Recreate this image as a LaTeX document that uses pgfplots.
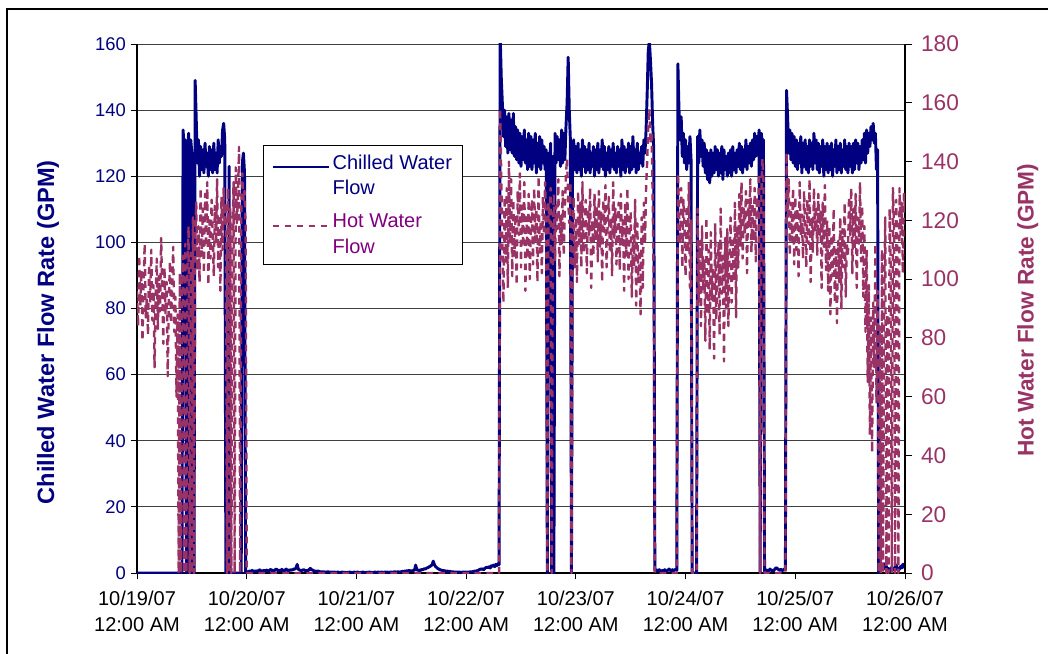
\documentclass[border=0pt]{standalone}
\usepackage{fontspec}
\setmainfont{Liberation Sans}
\usepackage{pgfplots}
\usepackage{pgfplotstable}
\pgfplotsset{compat=1.18}
\definecolor{cw}{HTML}{000080}
\definecolor{hw}{HTML}{993366}
\definecolor{hwtext}{HTML}{800080}

% Chilled water flow (GPM), one value every 0.01 day from 10/19/07 0:00
\pgfplotstableread[row sep=\\]{
y\\
0\\0\\0\\0\\0\\0\\0\\0\\0\\0\\
0\\0\\0\\0\\0\\0\\0\\0\\0\\0\\
0\\0\\0\\0\\0\\0\\0\\0\\0\\0\\
0\\0\\0\\0\\0\\0\\0\\0\\0\\0\\
0\\0\\134\\128\\131\\0\\126\\133\\0\\131\\
127\\0\\0\\149\\137\\124\\131\\120\\129\\122\\
128\\121\\130\\123\\127\\120\\129\\122\\128\\121\\
130\\122\\127\\121\\131\\124\\129\\126\\134\\136\\
131\\0\\0\\0\\123\\0\\0\\0\\0\\0\\
0\\0\\0\\0\\0\\0\\124\\127\\121\\0\\
0.4\\0.3\\0.5\\0.6\\0.4\\0.8\\0.5\\0.3\\0.7\\0.5\\
0.6\\0.8\\1.0\\0.6\\0.4\\0.7\\0.8\\0.5\\0.9\\0.6\\
0.5\\0.9\\1.1\\0.7\\0.8\\0.6\\1.0\\1.2\\0.8\\0.7\\
0.9\\0.6\\1.1\\0.8\\0.5\\0.9\\1.2\\0.8\\0.6\\1.0\\
0.8\\1.0\\0.9\\1.3\\1.1\\1.6\\2.6\\1.2\\0.9\\0.8\\
0.7\\0.9\\1.0\\0.8\\0.6\\0.8\\0.7\\1.1\\1.4\\1.0\\
0.9\\0.7\\0.5\\0.6\\0.4\\0.6\\0.5\\0.3\\0.4\\0.3\\
0.4\\0.3\\0.2\\0.3\\0.4\\0.2\\0.3\\0.2\\0.3\\0.2\\
0.3\\0.2\\0.2\\0.3\\0.2\\0.1\\0.2\\0.3\\0.2\\0.2\\
0.2\\0.1\\0.2\\0.2\\0.3\\0.2\\0.1\\0.2\\0.3\\0.2\\
0.2\\0.3\\0.2\\0.1\\0.2\\0.2\\0.3\\0.2\\0.1\\0.2\\
0.2\\0.2\\0.3\\0.2\\0.2\\0.1\\0.2\\0.3\\0.2\\0.2\\
0.3\\0.2\\0.2\\0.3\\0.2\\0.2\\0.3\\0.2\\0.3\\0.2\\
0.2\\0.3\\0.3\\0.2\\0.3\\0.4\\0.3\\0.3\\0.4\\0.3\\
0.3\\0.4\\0.5\\0.4\\0.6\\0.5\\0.7\\0.6\\0.8\\0.6\\
0.7\\0.6\\0.8\\0.9\\2.4\\1.0\\0.8\\0.9\\0.7\\1.0\\
1.0\\1.1\\1.3\\1.2\\1.5\\1.6\\1.8\\2.0\\2.2\\2.5\\
3.6\\2.6\\2.0\\1.7\\1.4\\1.2\\1.0\\0.9\\0.8\\0.7\\
0.7\\0.6\\0.5\\0.6\\0.4\\0.5\\0.4\\0.3\\0.4\\0.3\\
0.3\\0.2\\0.3\\0.2\\0.3\\0.2\\0.2\\0.3\\0.2\\0.3\\
0.2\\0.3\\0.2\\0.3\\0.4\\0.3\\0.4\\0.5\\0.6\\0.5\\
0.7\\0.8\\1.0\\1.2\\1.1\\1.3\\1.0\\1.4\\1.6\\1.8\\
1.6\\1.9\\1.5\\2.2\\2.0\\2.4\\1.9\\2.6\\2.2\\2.8\\
2.5\\163\\150\\142\\132\\140\\129\\138\\127\\139\\
128\\137\\127\\139\\126\\135\\125\\134\\124\\133\\
123\\132\\125\\134\\124\\131\\122\\133\\123\\132\\
122\\131\\124\\133\\121\\130\\123\\132\\122\\131\\
124\\129\\122\\128\\0\\127\\121\\130\\0\\126\\
0\\133\\124\\132\\125\\131\\123\\134\\124\\133\\
125\\135\\142\\156\\140\\131\\0\\124\\131\\122\\
129\\121\\130\\122\\128\\120\\131\\123\\129\\121\\
128\\122\\130\\121\\127\\123\\129\\120\\128\\122\\
130\\121\\128\\123\\131\\122\\129\\120\\127\\122\\
129\\121\\128\\123\\130\\122\\127\\121\\129\\123\\
128\\120\\131\\122\\129\\121\\128\\123\\130\\121\\
129\\122\\132\\123\\128\\121\\130\\122\\127\\124\\
129\\123\\131\\127\\134\\145\\158\\161\\155\\148\\
136\\128\\0.8\\0.5\\0.9\\0.6\\1.0\\0.7\\0.5\\0.8\\
0.6\\1.0\\0.7\\0.5\\0.9\\1.2\\0.8\\0.6\\1.0\\0.7\\
0.9\\1.1\\0.8\\154\\140\\131\\138\\126\\133\\124\\
131\\122\\129\\124\\132\\125\\0\\0\\0\\0\\
0\\132\\124\\134\\126\\131\\123\\130\\121\\128\\
119\\127\\118\\128\\120\\127\\121\\129\\122\\128\\
120\\127\\121\\129\\119\\128\\122\\126\\120\\127\\
121\\128\\120\\129\\122\\127\\121\\128\\123\\130\\
122\\129\\121\\128\\123\\131\\122\\129\\124\\130\\
123\\131\\125\\133\\126\\132\\128\\134\\0\\133\\
130\\131\\0\\0.6\\0.9\\0.5\\0.8\\1.2\\0.7\\0.9\\
0.6\\1.0\\1.4\\1.6\\1.2\\1.0\\0.8\\1.1\\0.7\\0.9\\
1.2\\1.0\\146\\138\\127\\134\\125\\133\\124\\132\\
123\\131\\122\\130\\124\\132\\121\\130\\123\\131\\
122\\129\\121\\131\\123\\130\\122\\133\\124\\131\\
122\\130\\121\\129\\123\\131\\120\\129\\122\\130\\
121\\129\\122\\130\\120\\128\\123\\131\\121\\129\\
122\\130\\121\\128\\123\\131\\122\\129\\121\\130\\
123\\129\\121\\130\\122\\131\\124\\130\\122\\129\\
124\\131\\125\\133\\124\\134\\127\\133\\129\\135\\
131\\136\\130\\133\\122\\128\\0\\1.5\\0.8\\2.2\\
1.5\\2.8\\1.2\\2.0\\0.8\\1.4\\0.9\\0.6\\1.8\\1.2\\
0.9\\1.6\\2.4\\1.1\\0.7\\1.3\\2.0\\1.5\\2.6\\1.8\\
3.0\\
}\chilled

% Hot water flow (GPM), one value every 0.01 day
\pgfplotstableread[row sep=\\]{
y\\
96\\84\\108\\91\\103\\79\\99\\112\\87\\94\\
81\\105\\92\\110\\86\\98\\70\\93\\107\\83\\
101\\89\\114\\95\\78\\104\\88\\99\\67\\92\\
106\\85\\97\\111\\82\\94\\60\\88\\0\\102\\
0\\96\\108\\0\\112\\0\\104\\118\\0\\109\\
0\\121\\0\\114\\126\\103\\118\\99\\131\\108\\
124\\102\\129\\111\\133\\98\\120\\107\\127\\115\\
101\\125\\112\\134\\104\\122\\96\\128\\110\\131\\
118\\126\\0\\131\\0\\124\\0\\112\\133\\0\\
138\\119\\128\\145\\0\\122\\136\\127\\130\\118\\
0\\0\\0\\0\\0\\0\\0\\0\\0\\0\\
0\\0\\0\\0\\0\\0\\0\\0\\0\\0\\
0\\0\\0\\0\\0\\0\\0\\0\\0\\0\\
0\\0\\0\\0\\0\\0\\0\\0\\0\\0\\
0\\0\\0\\0\\0\\0\\0\\0\\0\\0\\
0\\0\\0\\0\\0\\0\\0\\0\\0\\0\\
0\\0\\0\\0\\0\\0\\0\\0\\0\\0\\
0\\0\\0\\0\\0\\0\\0\\0\\0\\0\\
0\\0\\0\\0\\0\\0\\0\\0\\0\\0\\
0\\0\\0\\0\\0\\0\\0\\0\\0\\0\\
0\\0\\0\\0\\0\\0\\0\\0\\0\\0\\
0\\0\\0\\0\\0\\0\\0\\0\\0\\0\\
0\\0\\0\\0\\0\\0\\0\\0\\0\\0\\
0\\0\\0\\0\\0\\0\\0\\0\\0\\0\\
0\\0\\0\\0\\0\\0\\0\\0\\0\\0\\
0\\0\\0\\0\\0\\0\\0\\0\\0\\0\\
0\\0\\0\\0\\0\\0\\0\\0\\0\\0\\
0\\0\\0\\0\\0\\0\\0\\0\\0\\0\\
0\\0\\0\\0\\0\\0\\0\\0\\0\\0\\
0\\0\\0\\0\\0\\0\\0\\0\\0\\0\\
0\\0\\0\\0\\0\\0\\0\\0\\0\\0\\
0\\0\\0\\0\\0\\0\\0\\0\\0\\0\\
0\\0\\0\\0\\0\\0\\0\\0\\0\\0\\
0\\158\\135\\112\\92\\128\\106\\131\\97\\140\\
112\\134\\101\\127\\108\\122\\98\\130\\115\\136\\
104\\125\\111\\133\\96\\121\\107\\129\\100\\118\\
127\\105\\131\\113\\124\\99\\135\\109\\120\\102\\
128\\115\\133\\110\\0\\126\\119\\131\\0\\114\\
129\\106\\125\\117\\134\\101\\122\\112\\130\\108\\
124\\136\\141\\127\\119\\133\\0\\113\\128\\104\\
121\\99\\130\\112\\126\\104\\133\\109\\118\\127\\
102\\124\\115\\131\\97\\120\\108\\129\\113\\125\\
106\\130\\111\\123\\99\\127\\116\\132\\104\\119\\
128\\109\\121\\101\\133\\114\\124\\105\\118\\126\\
103\\129\\112\\120\\96\\126\\108\\131\\100\\117\\
123\\94\\115\\104\\127\\91\\119\\99\\110\\88\\
121\\97\\126\\112\\131\\140\\152\\158\\146\\150\\
128\\96\\0\\0\\0\\0\\0\\0\\0\\0\\
0\\0\\0\\0\\0\\0\\0\\0\\0\\0\\
0\\0\\0\\136\\124\\112\\131\\104\\127\\118\\
101\\125\\109\\133\\97\\120\\0\\0\\0\\0\\
0\\124\\92\\113\\84\\118\\96\\107\\79\\121\\
88\\110\\76\\116\\93\\104\\73\\119\\86\\101\\
112\\81\\124\\95\\108\\72\\114\\90\\117\\84\\
106\\121\\92\\113\\99\\126\\87\\118\\104\\129\\
111\\133\\107\\124\\115\\130\\102\\127\\118\\134\\
109\\126\\113\\131\\106\\128\\122\\136\\0\\128\\
141\\133\\0\\0\\0\\0\\0\\0\\0\\0\\
0\\0\\0\\0\\0\\0\\0\\0\\0\\0\\
0\\0\\143\\121\\134\\108\\126\\113\\131\\105\\
128\\110\\124\\101\\133\\115\\122\\107\\130\\118\\
104\\127\\112\\134\\99\\121\\109\\131\\116\\125\\
108\\129\\114\\123\\97\\126\\111\\132\\103\\120\\
96\\118\\88\\115\\101\\124\\92\\110\\85\\113\\
99\\121\\90\\117\\104\\126\\94\\112\\108\\128\\
115\\131\\102\\124\\110\\129\\97\\121\\112\\133\\
106\\125\\94\\118\\82\\110\\65\\98\\47\\87\\
41\\92\\70\\112\\58\\96\\0\\84\\0\\110\\
0\\96\\121\\0\\88\\0\\124\\105\\0\\131\\
118\\0\\127\\109\\0\\131\\115\\126\\102\\129\\
124\\
}\hot

\begin{document}
\begin{tikzpicture}
\useasboundingbox (0pt,0pt) rectangle (786pt,489.75pt);
\draw[line width=1.1pt] (5.25pt,-10pt) -- (5.25pt,483pt) -- (800pt,483pt);

\begin{axis}[
  at={(102.75pt,60pt)}, anchor=south west,
  width=576pt, height=396.75pt, scale only axis,
  xmin=0, xmax=7, ymin=0, ymax=160,
  axis y line*=left, axis x line*=bottom,
  axis line style={-, black, line width=0.8pt},
  xtick={0,1,2,3,4,5,6,7},
  xticklabels={{10/19/07\\12:00 AM},{10/20/07\\12:00 AM},{10/21/07\\12:00 AM},{10/22/07\\12:00 AM},{10/23/07\\12:00 AM},{10/24/07\\12:00 AM},{10/25/07\\12:00 AM},{10/26/07\\12:00 AM}},
  ytick={0,20,...,160},
  ymajorgrids, grid style={black!75, line width=0.6pt},
  tick align=outside, major tick length=4.8pt,
  tick style={black, line width=0.6pt},
  /pgf/number format/assume math mode=true,
  yticklabel style={font=\fontsize{13.8}{16}\selectfont, text=cw},
  xticklabel style={font=\fontsize{15}{20}\selectfont, align=center, text=black, yshift=-5pt},
  ylabel={Chilled Water Flow Rate (GPM)},
  ylabel style={font=\bfseries\fontsize{17.7}{20}\selectfont, text=cw,
    at={(axis description cs:-0.116,0.455)}, anchor=center},
]
\addplot[cw, line width=2.2pt, line join=round] table[x expr=\coordindex/100, y=y] {\chilled};
\end{axis}

\begin{axis}[
  at={(102.75pt,60pt)}, anchor=south west,
  width=576pt, height=396.75pt, scale only axis,
  xmin=0, xmax=7, ymin=0, ymax=180,
  axis y line*=right, axis x line=none,
  axis line style={-, black, line width=0.8pt},
  ytick={0,20,...,180},
  tick align=outside, major tick length=5.5pt,
  tick style={black, line width=0.6pt},
  /pgf/number format/assume math mode=true,
  yticklabel style={font=\fontsize{17}{20}\selectfont, text=hw, xshift=3pt},
  ylabel={Hot Water Flow Rate (GPM)},
  ylabel style={font=\bfseries\fontsize{17}{20}\selectfont, text=hw,
    at={(axis description cs:1.160,0.497)}, anchor=center},
  legend cell align=left,
  legend style={at={(axis description cs:0.164,0.809)}, anchor=north west,
    draw=black, line width=0.6pt, fill=white,
    font=\fontsize{15}{19}\selectfont, cells={align=left},
    inner xsep=6pt, inner ysep=5pt, row sep=9pt},
  legend image code/.code={\draw[#1] (0pt,6.5pt) -- (42pt,6.5pt); \path (0pt,-6.5pt);},
]
\addlegendimage{cw, line width=2pt}
\addlegendentry[text=cw]{Chilled Water\\Flow}
\addplot[hw, line width=1.8pt, dash pattern=on 5pt off 4pt, line join=round] table[x expr=\coordindex/100, y=y] {\hot};
\addlegendentry[text=hwtext]{Hot Water\\Flow}
\end{axis}
\end{tikzpicture}
\end{document}
